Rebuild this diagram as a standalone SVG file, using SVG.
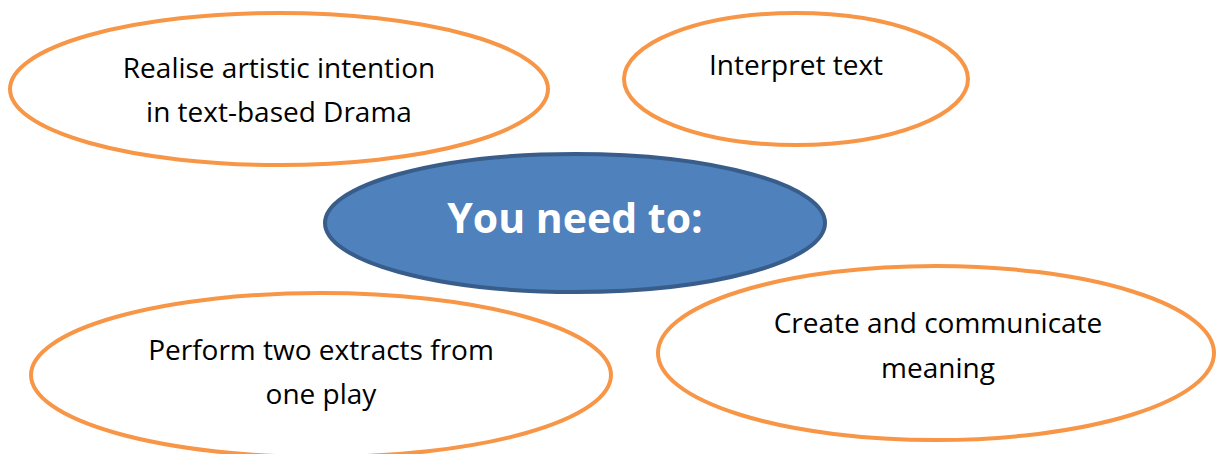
<svg xmlns="http://www.w3.org/2000/svg" width="1217" height="454" viewBox="0 0 1217 454">
<style>
.o{fill:#fff;stroke:#F79646;stroke-width:4}
.t{font-family:"Open Sans","Noto Sans",sans-serif;font-size:28px;fill:#000;text-anchor:middle}
.c{fill:#4F81BD;stroke:#385D8A;stroke-width:4}
.ct{font-family:"Open Sans","Noto Sans",sans-serif;font-size:41px;font-weight:bold;fill:#fff;text-anchor:middle}
</style>
<rect width="1217" height="454" fill="#fff"/>
<g id="connectors"></g>
<g id="n1"><ellipse class="o" cx="279" cy="89" rx="269" ry="76"/>
<text class="t" x="279" y="78">Realise artistic intention</text>
<text class="t" x="279" y="122">in text-based Drama</text></g>
<g id="n2"><ellipse class="o" cx="796" cy="79" rx="172" ry="66"/>
<text class="t" x="796" y="75">Interpret text</text></g>
<g id="center"><ellipse class="c" cx="575" cy="223" rx="250" ry="69"/>
<text class="ct" x="575" y="233">You need to:</text></g>
<g id="n3"><ellipse class="o" cx="321" cy="375" rx="290" ry="82"/>
<text class="t" x="321" y="360">Perform two extracts from</text>
<text class="t" x="321" y="404">one play</text></g>
<g id="n4"><ellipse class="o" cx="936" cy="353" rx="278" ry="87"/>
<text class="t" x="938" y="333">Create and communicate</text>
<text class="t" x="938" y="378">meaning</text></g>
</svg>
